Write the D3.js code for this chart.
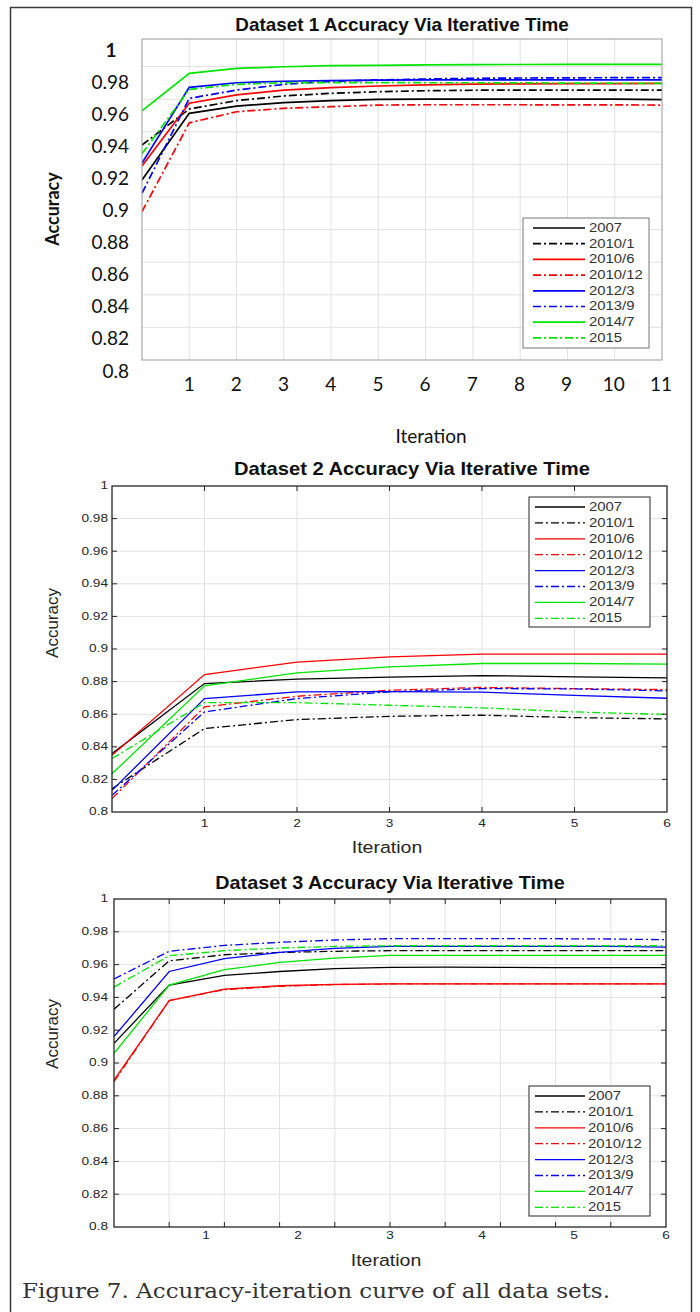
<!DOCTYPE html>
<html lang="en">
<head>
<meta charset="UTF-8">
<title>Accuracy-iteration curve of all data sets</title>
<script src="https://d3js.org/d3.v7.min.js"></script>
<style>
  body { margin: 0; background: #fff; }
  svg { display: block; }
  .grid line { stroke: #e2e2e2; stroke-width: 1; }
  .series { fill: none; }
</style>
</head>
<body>
<div id="chart"></div>
<script>
// series names (legend order)
const seriesNames = ["2007", "2010/1", "2010/6", "2010/12", "2012/3", "2013/9", "2014/7", "2015"];

// y tick labels shared by the three panels
const yTicks = [0.8, 0.82, 0.84, 0.86, 0.88, 0.9, 0.92, 0.94, 0.96, 0.98, 1];
const yTickLabels = ["0.8", "0.82", "0.84", "0.86", "0.88", "0.9", "0.92", "0.94", "0.96", "0.98", "1"];

// dataset 1: iterations 0..11
const iter1 = [0, 1, 2, 3, 4, 5, 6, 7, 8, 9, 10, 11];
const xLabels1 = [1, 2, 3, 4, 5, 6, 7, 8, 9, 10, 11];
const acc1 = [
  [0.9104, 0.9513, 0.9558, 0.9579, 0.9591, 0.9599, 0.9600, 0.9601, 0.9601, 0.9601, 0.9600, 0.9598],
  [0.9319, 0.9540, 0.9591, 0.9620, 0.9636, 0.9646, 0.9652, 0.9655, 0.9656, 0.9656, 0.9656, 0.9656],
  [0.9190, 0.9575, 0.9626, 0.9656, 0.9671, 0.9681, 0.9688, 0.9692, 0.9694, 0.9695, 0.9696, 0.9697],
  [0.8910, 0.9455, 0.9523, 0.9544, 0.9554, 0.9564, 0.9566, 0.9566, 0.9566, 0.9565, 0.9565, 0.9564],
  [0.9208, 0.9673, 0.9701, 0.9710, 0.9714, 0.9717, 0.9718, 0.9718, 0.9718, 0.9718, 0.9718, 0.9718],
  [0.9023, 0.9605, 0.9656, 0.9691, 0.9710, 0.9718, 0.9724, 0.9728, 0.9730, 0.9731, 0.9732, 0.9732],
  [0.9528, 0.9759, 0.9789, 0.9799, 0.9806, 0.9808, 0.9810, 0.9812, 0.9813, 0.9814, 0.9814, 0.9814],
  [0.9265, 0.9660, 0.9691, 0.9701, 0.9702, 0.9702, 0.9701, 0.9701, 0.9700, 0.9699, 0.9698, 0.9697]
];

// dataset 2: iterations 0..6
const iter2 = [0, 1, 2, 3, 4, 5, 6];
const xLabels2 = [1, 2, 3, 4, 5, 6];
const acc2 = [
  [0.8358, 0.8788, 0.8815, 0.8827, 0.8837, 0.8829, 0.8823],
  [0.8143, 0.8512, 0.8567, 0.8587, 0.8594, 0.8579, 0.8571],
  [0.8348, 0.8843, 0.8919, 0.8952, 0.8968, 0.8968, 0.8968],
  [0.8082, 0.8645, 0.8710, 0.8747, 0.8764, 0.8757, 0.8751],
  [0.8133, 0.8696, 0.8737, 0.8739, 0.8735, 0.8716, 0.8698],
  [0.8102, 0.8614, 0.8696, 0.8737, 0.8757, 0.8755, 0.8743],
  [0.8235, 0.8774, 0.8854, 0.8890, 0.8911, 0.8911, 0.8907],
  [0.8328, 0.8671, 0.8671, 0.8655, 0.8639, 0.8614, 0.8598]
];

// dataset 3: points on the 10 grid steps, labelled 1..6 on the axis
const iter3 = [0, 1, 2, 3, 4, 5, 6, 7, 8, 9, 10];
const xLabels3 = [1, 2, 3, 4, 5, 6];
const acc3 = [
  [0.9120, 0.9475, 0.9534, 0.9558, 0.9575, 0.9583, 0.9585, 0.9583, 0.9582, 0.9581, 0.9581],
  [0.9328, 0.9623, 0.9660, 0.9674, 0.9681, 0.9685, 0.9685, 0.9685, 0.9685, 0.9685, 0.9685],
  [0.8896, 0.9381, 0.9450, 0.9471, 0.9479, 0.9483, 0.9483, 0.9483, 0.9483, 0.9483, 0.9483],
  [0.8886, 0.9381, 0.9447, 0.9468, 0.9478, 0.9482, 0.9483, 0.9483, 0.9483, 0.9483, 0.9483],
  [0.9161, 0.9558, 0.9636, 0.9674, 0.9699, 0.9711, 0.9711, 0.9711, 0.9711, 0.9711, 0.9707],
  [0.9513, 0.9681, 0.9717, 0.9736, 0.9750, 0.9758, 0.9758, 0.9758, 0.9758, 0.9756, 0.9752],
  [0.9059, 0.9475, 0.9569, 0.9613, 0.9640, 0.9656, 0.9656, 0.9656, 0.9656, 0.9656, 0.9656],
  [0.9463, 0.9654, 0.9685, 0.9701, 0.9711, 0.9715, 0.9715, 0.9715, 0.9715, 0.9715, 0.9715]
];

// styles: colour per pair, odd ones dash-dot
const palette = ["#000000", "#ff0000", "#0000ff", "#00e600"];
const colorOf = i => palette[i >> 1];
const dashOf = i => (i % 2 ? "8,3,2,3" : null);

const svg = d3.select("#chart").append("svg")
  .attr("width", 700)
  .attr("height", 1312);

// outer frame of the figure
svg.append("rect")
  .attr("x", 10.5).attr("y", 7.5)
  .attr("width", 681).attr("height", 1340)
  .attr("fill", "none").attr("stroke", "#3a3a3a").attr("stroke-width", 1.5);

// text helper, sx stretches horizontally
function txt(g, str, x, y, o = {}) {
  let tr = `translate(${x},${y})`;
  if (o.rotate) tr += ` rotate(${o.rotate})`;
  if (o.sx) tr += ` scale(${o.sx},1)`;
  return g.append("text")
    .attr("transform", tr)
    .attr("text-anchor", o.anchor || "middle")
    .attr("dominant-baseline", "central")
    .attr("font-family", o.family || "'Liberation Sans', Arial, sans-serif")
    .attr("font-size", o.size || 12)
    .attr("font-weight", o.weight || "normal")
    .attr("fill", o.fill || "#262626")
    .text(str);
}

function drawPanel(p, id) {
  const g = svg.append("g");
  const x = p.x, y = p.y;
  const left = x.range()[0], right = x.range()[1];
  const bottom = y(0.8);

  // grid
  const grid = g.append("g").attr("class", "grid");
  grid.selectAll(".gx").data(p.gridX).enter().append("line")
    .attr("x1", d => x(d)).attr("x2", d => x(d))
    .attr("y1", p.top).attr("y2", bottom);
  grid.selectAll(".gy").data(yTicks.slice(1, 10)).enter().append("line")
    .attr("x1", left).attr("x2", right)
    .attr("y1", d => y(d)).attr("y2", d => y(d));

  // lines
  g.append("clipPath").attr("id", "clip" + id).append("rect")
    .attr("x", left).attr("y", p.top)
    .attr("width", right - left).attr("height", bottom - p.top);

  const line = d3.line().x((d, i) => x(p.iter[i])).y(d => y(d));
  g.append("g").attr("clip-path", `url(#clip${id})`)
    .selectAll("path").data(p.acc).enter().append("path")
    .attr("class", "series")
    .attr("d", line)
    .attr("stroke", (d, i) => colorOf(i))
    .attr("stroke-width", p.lw)
    .attr("stroke-dasharray", (d, i) => dashOf(i));

  // box
  g.append("rect")
    .attr("x", left).attr("y", p.top)
    .attr("width", right - left).attr("height", bottom - p.top)
    .attr("fill", "none").attr("stroke", p.boxColor).attr("stroke-width", p.boxWidth);

  // inward ticks
  if (p.ticks) {
    const tk = g.append("g").attr("stroke", p.boxColor).attr("stroke-width", 1);
    p.gridX.forEach(d => {
      tk.append("line").attr("x1", x(d)).attr("x2", x(d)).attr("y1", bottom).attr("y2", bottom - 5);
      tk.append("line").attr("x1", x(d)).attr("x2", x(d)).attr("y1", p.top).attr("y2", p.top + 5);
    });
    yTicks.slice(1, 10).forEach(d => {
      tk.append("line").attr("x1", left).attr("x2", left + 5).attr("y1", y(d)).attr("y2", y(d));
      tk.append("line").attr("x1", right).attr("x2", right - 5).attr("y1", y(d)).attr("y2", y(d));
    });
  }

  // tick labels
  yTicks.forEach((d, i) => {
    const t = txt(g, yTickLabels[i], p.yLabX, p.yLab(d), p.yLabStyle);
    if (d === 1 && p.oneStyle) {
      t.attr("font-weight", "bold").attr("text-anchor", "middle").attr("transform", `translate(${p.oneX},${p.yLab(d)})`);
    }
  });
  p.xLabels.forEach(d => txt(g, d, p.xLab(d), p.xLabY, p.xLabStyle));

  // titles
  txt(g, p.title, p.titleX, p.titleY, { size: 18, weight: "bold", sx: p.titleSx, fill: "#111" });
  txt(g, "Iteration", p.xTitleX, p.xTitleY, p.xTitleStyle);
  txt(g, "Accuracy", 52, p.yTitleY, Object.assign({ rotate: -90 }, p.yTitleStyle));

  // legend
  const L = p.legend;
  const lg = g.append("g");
  lg.append("rect")
    .attr("x", L.x0).attr("y", L.y0)
    .attr("width", L.x1 - L.x0).attr("height", L.y1 - L.y0)
    .attr("fill", "#fff").attr("stroke", L.stroke).attr("stroke-width", 1);
  seriesNames.forEach((name, i) => {
    const yy = L.row0 + i * L.step;
    lg.append("line")
      .attr("x1", L.s0).attr("x2", L.s1).attr("y1", yy).attr("y2", yy)
      .attr("stroke", colorOf(i)).attr("stroke-width", p.lw)
      .attr("stroke-dasharray", dashOf(i));
    txt(lg, name, L.tx, yy, { anchor: "start", size: 12, sx: 1.24, fill: "#333" });
  });
}

const calibri = "Lato, 'Open Sans', sans-serif";

// panel 1
drawPanel({
  x: d3.scaleLinear().domain([0, 11]).range([142, 662]),
  y: d3.scaleLinear().domain([0.8, 1]).range([360, 34]),
  top: 39,
  iter: iter1, acc: acc1,
  gridX: [1, 2, 3, 4, 5, 6, 7, 8, 9, 10],
  lw: 1.7, boxColor: "#9a9a9a", boxWidth: 1, ticks: false,
  yLab: d3.scaleLinear().domain([0.8, 1]).range([370, 49]),
  yLabX: 129,
  yLabStyle: { anchor: "end", size: 19, family: calibri, fill: "#111" },
  oneStyle: true, oneX: 111,
  xLabels: xLabels1,
  xLab: d3.scaleLinear().domain([0, 11]).range([142, 661]),
  xLabY: 383,
  xLabStyle: { size: 19, family: calibri, fill: "#111" },
  title: "Dataset 1 Accuracy Via Iterative Time", titleX: 402, titleY: 25, titleSx: 1.05,
  xTitleX: 431, xTitleY: 435, xTitleStyle: { size: 19, family: calibri, fill: "#111" },
  yTitleY: 209, yTitleStyle: { size: 18, weight: "bold", family: calibri, fill: "#111" },
  legend: { x0: 523, y0: 218, x1: 649, y1: 348, stroke: "#777", row0: 228, step: 15.7, s0: 533, s1: 585, tx: 589 }
}, 1);

// panel 2
const x2 = d3.scaleLinear().domain([0, 6]).range([112, 667]);
drawPanel({
  x: x2,
  y: d3.scaleLinear().domain([0.8, 1]).range([812, 486]),
  top: 486,
  iter: iter2, acc: acc2,
  gridX: [1, 2, 3, 4, 5],
  lw: 1.3, boxColor: "#262626", boxWidth: 1.3, ticks: true,
  yLab: d3.scaleLinear().domain([0.8, 1]).range([812, 486]),
  yLabX: 108,
  yLabStyle: { anchor: "end", size: 10.5, sx: 1.3 },
  xLabels: xLabels2, xLab: x2, xLabY: 824,
  xLabStyle: { size: 10.5, sx: 1.3 },
  title: "Dataset 2 Accuracy Via Iterative Time", titleX: 412, titleY: 469, titleSx: 1.12,
  xTitleX: 387, xTitleY: 847, xTitleStyle: { size: 17, sx: 1.15 },
  yTitleY: 623, yTitleStyle: { size: 17 },
  legend: { x0: 529, y0: 497, x1: 650, y1: 627, stroke: "#262626", row0: 507, step: 15.9, s0: 535, s1: 585, tx: 589 }
}, 2);

// panel 3
drawPanel({
  x: d3.scaleLinear().domain([0, 10]).range([114, 666]),
  y: d3.scaleLinear().domain([0.8, 1]).range([1227, 899]),
  top: 899,
  iter: iter3, acc: acc3,
  gridX: [1, 2, 3, 4, 5, 6, 7, 8, 9],
  lw: 1.3, boxColor: "#262626", boxWidth: 1.3, ticks: true,
  yLab: d3.scaleLinear().domain([0.8, 1]).range([1227, 899]),
  yLabX: 108,
  yLabStyle: { anchor: "end", size: 10.5, sx: 1.3 },
  xLabels: xLabels3,
  xLab: d3.scaleLinear().domain([0, 6]).range([114, 666]),
  xLabY: 1236,
  xLabStyle: { size: 10.5, sx: 1.3 },
  title: "Dataset 3 Accuracy Via Iterative Time", titleX: 390, titleY: 883, titleSx: 1.1,
  xTitleX: 386, xTitleY: 1260, xTitleStyle: { size: 17, sx: 1.15 },
  yTitleY: 1034, yTitleStyle: { size: 17 },
  legend: { x0: 529, y0: 1086, x1: 650, y1: 1216, stroke: "#262626", row0: 1096, step: 15.9, s0: 535, s1: 585, tx: 588 }
}, 3);

// caption
svg.append("text")
  .attr("x", 22).attr("y", 1298)
  .attr("font-family", "'DejaVu Serif', 'Liberation Serif', serif")
  .attr("font-size", 21)
  .attr("textLength", 588).attr("lengthAdjust", "spacingAndGlyphs")
  .attr("fill", "#333")
  .text("Figure 7. Accuracy-iteration curve of all data sets.");
</script>
</body>
</html>
